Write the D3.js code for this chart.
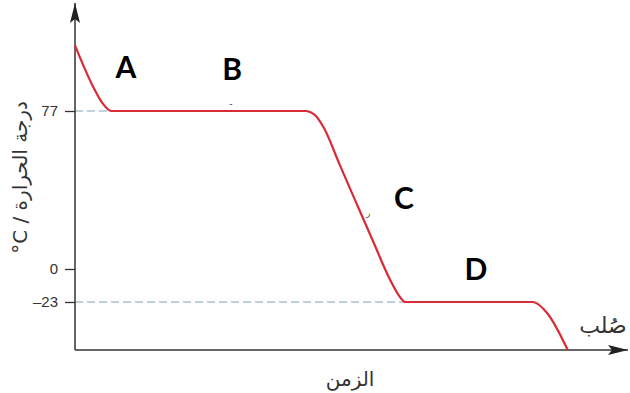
<!DOCTYPE html>
<html>
<head>
<meta charset="utf-8">
<script src="https://cdn.jsdelivr.net/npm/d3@7"></script>
<style>
  html, body { margin: 0; padding: 0; background: #fff; }
  svg { display: block; }
</style>
</head>
<body>
<svg id="chart" width="630" height="393"></svg>
<script>
// ---- data ----
const timeValues = [0, 1.5, 3.3, 4.8, 6.6, 41.6, 43.4, 44.9, 47.9, 50.9, 53.9, 57.0, 58.5, 59.7, 82.8, 85.4, 89.1];
const tempValues = [109.2, 99.4, 88.8, 81.5, 77, 77, 75.0, 69.3, 50.6, 32, 13.5, -7.7, -18.1, -23, -23, -30.7, -56];
const tickValues = [77, 0, -23];
const tickLabels = ["77", "0", "–23"];
const plateauTemps = [77, -23];
const plateauEnds = [6.6, 59.7];
const stageLabels = ["A", "B", "C", "D"];
const stageTimes = [9.2, 28.4, 59.5, 72.5];
const stageTemps = [93, 92, 29.2, -7.7];
const yTitle = "°C / درجة الحرارة";
const xTitle = "الزمن";
const solidLabel = "صُلب";

// ---- scales ----
const x = d3.scaleLinear().domain([0, 100]).range([75, 628]);
const y = d3.scaleLinear().domain([-56, -23, 0, 77, 130]).range([350, 302, 269, 111, 3]);

const svg = d3.select("#chart");
const axisColor = "#333";

// arrow markers
const defs = svg.append("defs");
defs.append("marker").attr("id", "arrow")
  .attr("viewBox", "0 0 20 10").attr("refX", 20).attr("refY", 5)
  .attr("markerWidth", 20).attr("markerHeight", 10)
  .attr("markerUnits", "userSpaceOnUse").attr("orient", "auto")
  .append("path").attr("d", "M0,0 L20,5 L0,10 L4,5 Z").attr("fill", "#222");

// dashed guide lines
svg.selectAll("line.guide").data(plateauTemps).enter().append("line")
  .attr("class", "guide")
  .attr("x1", x(0)).attr("x2", (d, i) => x(plateauEnds[i]))
  .attr("y1", d => y(d)).attr("y2", d => y(d))
  .attr("stroke", "#7ea3bb").attr("stroke-width", 1.2)
  .attr("stroke-dasharray", "8,4");

// y axis with ticks
const yAxis = d3.axisLeft(y).tickValues(tickValues)
  .tickFormat((d, i) => tickLabels[i]).tickSize(10).tickSizeOuter(0).tickPadding(7);
const gy = svg.append("g").attr("transform", `translate(${x(0)},0)`).call(yAxis);
gy.select(".domain").remove();
gy.selectAll(".tick line").attr("stroke", axisColor).attr("stroke-width", 1.3);
gy.selectAll(".tick text").attr("fill", "#333")
  .style("font-family", "'Liberation Sans', Arial, sans-serif").style("font-size", "15px");

// axis lines with arrows
svg.append("line").attr("x1", x(0)).attr("y1", y(-56)).attr("x2", x(0)).attr("y2", y(130))
  .attr("stroke", axisColor).attr("stroke-width", 1.5).attr("marker-end", "url(#arrow)");
svg.append("line").attr("x1", x(0)).attr("y1", y(-56)).attr("x2", x(100)).attr("y2", y(-56))
  .attr("stroke", axisColor).attr("stroke-width", 1.5).attr("marker-end", "url(#arrow)");

// cooling curve
const pts = timeValues.map((t, i) => [t, tempValues[i]]);
const line = d3.line().x(d => x(d[0])).y(d => y(d[1])).curve(d3.curveMonotoneX);
svg.append("path").datum(pts).attr("d", line)
  .attr("fill", "none").attr("stroke", "#da2a35").attr("stroke-width", 2.2)
  .attr("stroke-linejoin", "round");

// stage letters
svg.selectAll("text.stage").data(stageLabels).enter().append("text")
  .attr("class", "stage")
  .attr("x", (d, i) => x(stageTimes[i])).attr("y", (d, i) => y(stageTemps[i]))
  .attr("text-anchor", "middle")
  .style("font-family", "Lato, 'Open Sans', sans-serif").style("font-weight", "bold")
  .style("font-size", "30px").attr("fill", "#000")
  .text(d => d);

// small stray marks
svg.append("text").attr("x", 231).attr("y", 107).attr("text-anchor", "middle")
  .style("font-family", "'Liberation Sans', sans-serif").style("font-size", "10px").attr("fill", "#555").text("-");
svg.append("text").attr("x", 368).attr("y", 216).attr("text-anchor", "middle")
  .style("font-family", "'Noto Sans', sans-serif").style("font-size", "9px").attr("fill", "#555").text("ر");

// axis titles
svg.append("text")
  .attr("transform", `translate(27,${(90 + 265) / 2}) rotate(-90)`)
  .attr("text-anchor", "middle").attr("direction", "ltr")
  .style("font-family", "'DejaVu Sans', 'Noto Sans', sans-serif").style("font-size", "20px")
  .attr("fill", "#333").text(yTitle);

svg.append("text").attr("x", 350).attr("y", 386).attr("text-anchor", "middle")
  .style("font-family", "'DejaVu Sans', 'Noto Sans', sans-serif").style("font-size", "20px")
  .attr("fill", "#333").text(xTitle);

svg.append("text").attr("x", 603).attr("y", 333).attr("text-anchor", "middle")
  .style("font-family", "'DejaVu Sans', 'Noto Sans', sans-serif").style("font-size", "22px")
  .attr("fill", "#333").text(solidLabel);
</script>
</body>
</html>
